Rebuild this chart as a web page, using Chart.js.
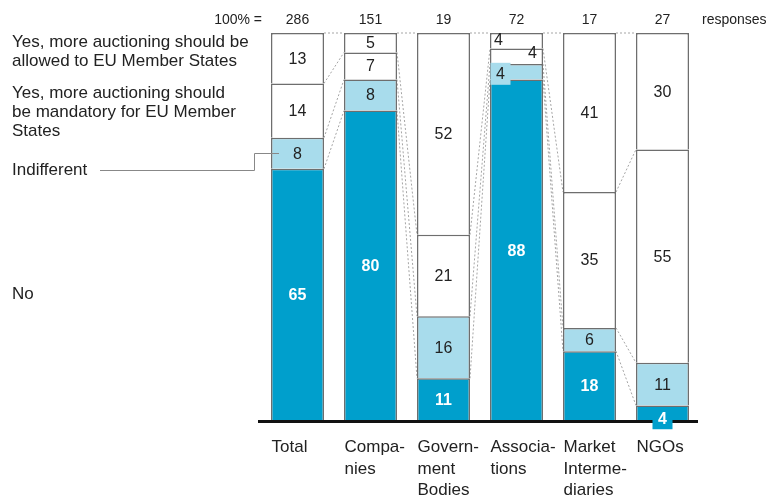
<!DOCTYPE html>
<html>
<head>
<meta charset="utf-8">
<script src="https://cdn.jsdelivr.net/npm/chart.js@4/dist/chart.umd.min.js"></script>
<style>
  body { margin: 0; background: #fff; }
</style>
</head>
<body>
<canvas id="chart" width="768" height="497"></canvas>
<script>
const categories = [["Total"], ["Compa-", "nies"], ["Govern-", "ment", "Bodies"], ["Associa-", "tions"], ["Market", "Interme-", "diaries"], ["NGOs"]];
const responses = [286, 151, 19, 72, 17, 27];
const noVals = [65, 80, 11, 88, 18, 4];
const indifferentVals = [8, 8, 16, 4, 6, 11];
const mandatoryVals = [14, 7, 21, 4, 35, 55];
const allowedVals = [13, 5, 52, 4, 41, 30];
const seriesNames = ["No", "Indifferent", "Yes, more auctioning should be mandatory for EU Member States", "Yes, more auctioning should be allowed to EU Member States"];

const FONT = '"Liberation Sans", Arial, sans-serif';
const BLUE = "#009fcc";
const LIGHT = "#a8dcec";
const EDGE = "#6e6e6e";
const series = [noVals, indifferentVals, mandatoryVals, allowedVals];

// small segments whose numbers sit off-centre
const offLabels = {
  "3-3": { dx: -18, dy: -1 },
  "3-2": { dx: 16, dy: -4 },
  "3-1": { dx: -16, dy: 2, box: true },
  "5-0": { dx: 0, dy: 5, box: true },
};

const connectors = {
  id: "connectors",
  beforeDatasetsDraw(chart) {
    const { ctx } = chart;
    const y = chart.scales.y;
    const bars = chart.getDatasetMeta(0).data;
    ctx.save();
    ctx.strokeStyle = "#a5a5a5";
    ctx.lineWidth = 1;
    ctx.setLineDash([2, 2]);
    for (let i = 0; i < categories.length - 1; i++) {
      const ax = bars[i].x + bars[i].width / 2;
      const bx = bars[i + 1].x - bars[i + 1].width / 2;
      let ca = 0, cb = 0;
      for (let d = 0; d < series.length; d++) {
        ca += series[d][i];
        cb += series[d][i + 1];
        ctx.beginPath();
        ctx.moveTo(ax, y.getPixelForValue(ca));
        ctx.lineTo(bx, y.getPixelForValue(cb));
        ctx.stroke();
      }
    }
    ctx.restore();
  },
};

const decorations = {
  id: "decorations",
  afterDatasetsDraw(chart) {
    const { ctx, chartArea } = chart;
    ctx.save();

    // baseline
    ctx.fillStyle = "#111";
    ctx.fillRect(chartArea.left - 3, chartArea.bottom - 1, chartArea.right - chartArea.left + 2, 3);

    // values in segments
    ctx.textAlign = "center";
    ctx.textBaseline = "middle";
    chart.data.datasets.forEach((ds, d) => {
      chart.getDatasetMeta(d).data.forEach((el, i) => {
        const off = offLabels[i + "-" + d] || { dx: 0, dy: 0 };
        const cx = el.x + off.dx;
        const cy = (el.y + el.base) / 2 + off.dy;
        if (off.box) {
          ctx.fillStyle = ds.backgroundColor;
          ctx.fillRect(cx - 10, cy - 11, 20, 22);
        }
        ctx.font = (d === 0 ? "bold " : "") + "16px " + FONT;
        ctx.fillStyle = d === 0 ? "#fff" : "#222";
        ctx.fillText(String(series[d][i]), cx, cy + 1);
      });
    });

    // header row
    const x = chart.scales.x;
    ctx.font = "14px " + FONT;
    ctx.fillStyle = "#222";
    ctx.textAlign = "right";
    ctx.fillText("100% =", chartArea.left + 1, 20);
    ctx.textAlign = "center";
    responses.forEach((r, i) => ctx.fillText(String(r), x.getPixelForValue(i), 20));
    ctx.textAlign = "left";
    ctx.fillText("responses", chartArea.right + 3, 20);

    // series labels on the left
    ctx.font = "17px " + FONT;
    const lines = [
      ["Yes, more auctioning should be", 42], ["allowed to EU Member States", 61],
      ["Yes, more auctioning should", 93], ["be mandatory for EU Member", 112], ["States", 131],
      ["Indifferent", 170], ["No", 294],
    ];
    lines.forEach(([t, ly]) => ctx.fillText(t, 12, ly));

    // leader for "Indifferent"
    const tot = chart.getDatasetMeta(1).data[0];
    const iy = Math.round((tot.y + tot.base) / 2) + 0.5;
    ctx.strokeStyle = "#888";
    ctx.lineWidth = 1;
    ctx.beginPath();
    ctx.moveTo(100, 170.5);
    ctx.lineTo(254.5, 170.5);
    ctx.lineTo(254.5, iy);
    ctx.lineTo(tot.x - tot.width / 2 + 8, iy);
    ctx.stroke();
    ctx.restore();
  },
};

new Chart(document.getElementById("chart"), {
  type: "bar",
  data: {
    labels: categories,
    datasets: [
      { label: seriesNames[0], data: noVals, backgroundColor: BLUE },
      { label: seriesNames[1], data: indifferentVals, backgroundColor: LIGHT },
      { label: seriesNames[2], data: mandatoryVals, backgroundColor: "#fff" },
      { label: seriesNames[3], data: allowedVals, backgroundColor: "#fff" },
    ],
  },
  options: {
    responsive: false,
    animation: false,
    barPercentage: 0.726,
    categoryPercentage: 1,
    borderColor: EDGE,
    borderWidth: 1.5,
    borderSkipped: "start",
    layout: { padding: { left: 261, right: 69, top: 33, bottom: 0 } },
    plugins: { legend: { display: false }, tooltip: { enabled: false } },
    scales: {
      x: {
        stacked: true,
        grid: { display: false, drawTicks: false },
        border: { display: false },
        ticks: {
          align: "start",
          labelOffset: -26,
          padding: 16,
          autoSkip: false,
          maxRotation: 0,
          color: "#222",
          font: { family: FONT, size: 17, lineHeight: 1.25 },
        },
        afterFit(scale) { scale.height = 76; },
      },
      y: { stacked: true, display: false, min: 0, max: 100 },
    },
  },
  plugins: [connectors, decorations],
});
</script>
</body>
</html>
